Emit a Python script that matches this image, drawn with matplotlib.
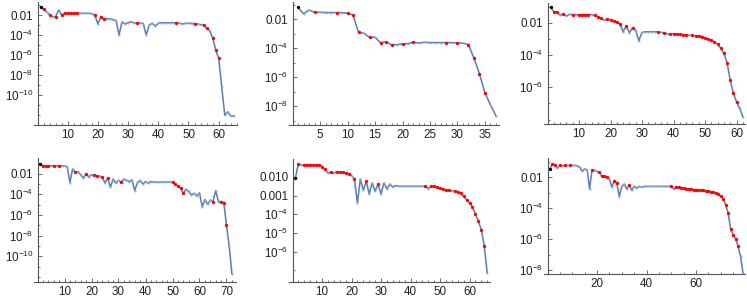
import numpy as np
import matplotlib
matplotlib.use('Agg')
import matplotlib.pyplot as plt
from matplotlib.ticker import FixedLocator, FixedFormatter, MultipleLocator, NullFormatter

plt.rcParams['font.family'] = ['Liberation Sans', 'DejaVu Sans']
plt.rcParams['mathtext.fontset'] = 'custom'
plt.rcParams['mathtext.rm'] = 'Liberation Sans'
plt.rcParams['mathtext.it'] = 'Liberation Sans:italic'

BLUE = '#5E81B5'

# log10 of the values (x = 1, 2, ...)
p1_log = [-1.23, -1.43, -1.67, -2.0, -2.17, -2.17, -1.5, -2.0, -1.83, -1.83,
          -1.83, -1.83, -1.83, -1.83, -1.83, -1.83, -1.83, -1.87, -2.0, -2.9,
          -2.17, -2.43, -2.35, -2.4, -2.45, -2.55, -4.0, -2.67, -2.9, -2.77,
          -2.67, -2.8, -2.77, -2.8, -2.85, -4.0, -3.0, -2.83, -3.1, -2.83,
          -2.77, -2.77, -2.77, -2.77, -2.77, -2.77, -2.8, -2.9, -2.83, -2.83,
          -2.85, -2.85, -2.9, -2.95, -3.0, -3.33, -3.6, -4.27, -5.5, -6.33,
          -9.2, -12.0, -11.7, -12.1, -12.1]
p1_red = [2, 4, 6, 8, 9, 10, 11, 12, 13, 19, 21, 22, 33, 46, 52, 55, 56, 58, 59, 60]

p2_log = [-1.17, -1.63, -1.36, -1.52, -1.52, -1.54, -1.54, -1.54, -1.54, -1.59,
          -1.70, -2.90, -2.97, -3.24, -3.24, -3.61, -3.56, -3.75, -3.75, -3.70,
          -3.68, -3.59, -3.63, -3.59, -3.61, -3.61, -3.61, -3.61, -3.61, -3.63,
          -3.65, -3.75, -4.69, -5.77, -7.10, -7.90, -8.67]
p2_red = [4, 8, 10, 11, 12, 14, 16, 17, 18, 20, 22, 28, 30, 32, 33, 34, 35]

p3_log = [-1.05, -1.32, -1.36, -1.53, -1.46, -1.59, -1.48, -1.50, -1.50, -1.50,
          -1.50, -1.50, -1.50, -1.50, -1.55, -1.63, -1.73, -1.84, -1.79, -1.81,
          -1.88, -1.94, -2.08, -2.56, -2.21, -2.62, -2.31, -2.49, -3.11, -2.60,
          -2.56, -2.56, -2.56, -2.56, -2.56, -2.60, -2.62, -2.68, -2.72, -2.68,
          -2.70, -2.72, -2.74, -2.74, -2.78, -2.78, -2.82, -2.82, -2.86, -2.93,
          -3.01, -3.09, -3.20, -3.32, -3.59, -3.90, -4.47, -5.55, -6.37, -6.89,
          -7.30, -7.81]
p3_red = [2, 3, 5, 8, 10, 11, 12, 13, 15, 16, 17, 19, 20, 21, 22, 23, 25, 27, 35, 37,
          39, 40, 41, 42, 43, 44, 46, 47, 48, 49, 50, 51, 52, 53, 54, 55, 56, 57, 58, 59, 60]

p4_log = [-1.02, -1.22, -1.22, -1.22, -1.22, -1.22, -1.22, -1.22, -1.22, -1.25,
          -1.30, -2.85, -1.54, -1.87, -1.78, -2.1, -2.42, -2.0, -2.3, -2.1,
          -2.1, -2.2, -2.25, -2.33, -2.9, -2.42, -3.3, -2.52, -2.9, -2.65,
          -2.81, -2.52, -2.65, -2.75, -2.6, -3.63, -2.85, -2.65, -3.0, -2.75,
          -2.9, -2.75, -2.81, -2.81, -2.81, -2.81, -2.81, -2.81, -2.81, -2.81,
          -3.0, -3.2, -3.4, -3.9, -3.5, -3.72, -4.05, -3.9, -4.15, -3.85,
          -5.2, -4.5, -4.95, -4.55, -4.7, -3.63, -4.7, -4.7, -4.8, -7.0,
          -9.0, -11.7]
p4_red = [2, 3, 4, 6, 8, 14, 18, 21, 22, 24, 26, 31, 50, 51, 52, 53, 54, 65, 68, 69, 70]

p5_log = [-2.05, -1.29, -1.38, -1.34, -1.34, -1.34, -1.35, -1.36, -1.36, -1.45,
          -1.60, -1.79, -1.75, -1.79, -1.71, -1.73, -1.75, -1.77, -1.82, -1.93,
          -2.11, -3.39, -2.11, -2.71, -2.23, -2.91, -2.32, -2.77, -2.37, -2.91,
          -2.32, -2.64, -2.39, -2.53, -2.46, -2.5, -2.5, -2.5, -2.5, -2.5,
          -2.5, -2.5, -2.5, -2.5, -2.5, -2.62, -2.5, -2.5, -2.55, -2.6,
          -2.66, -2.7, -2.7, -2.75, -2.75, -2.8, -2.86, -3.04, -3.21, -3.39,
          -3.6, -3.98, -4.37, -4.82, -5.68, -7.14]
p5_red = [2, 4, 5, 6, 7, 8, 9, 10, 11, 13, 15, 16, 17, 18, 19, 21, 25, 29, 45, 47,
          48, 49, 50, 51, 52, 53, 55, 56, 57, 58, 59, 60, 61, 62, 63, 64, 65]

p6_log = [-1.46, -1.14, -1.20, -1.42, -1.25, -1.27, -1.25, -1.25, -1.25, -1.25,
          -1.25, -1.27, -1.36, -1.63, -1.48, -1.53, -2.75, -1.53, -1.57, -1.63,
          -1.70, -1.96, -1.92, -2.0, -2.13, -2.65, -2.22, -2.39, -3.25, -2.6,
          -2.45, -2.77, -2.5, -2.86, -2.6, -2.7, -2.6, -2.65, -2.6, -2.6,
          -2.6, -2.6, -2.6, -2.6, -2.6, -2.6, -2.6, -2.6, -2.6, -2.6,
          -2.77, -2.62, -2.65, -2.7, -2.72, -2.74, -2.76, -2.78, -2.8, -2.8,
          -2.82, -2.84, -2.86, -2.88, -2.9, -2.93, -2.97, -3.03, -3.1, -3.24,
          -3.4, -3.78, -4.32, -5.35, -5.7, -5.98, -6.45, -7.1, -8.2]
p6_red = [2, 3, 5, 7, 9, 18, 21, 22, 23, 24, 27, 28, 33, 50] + list(range(52, 78))

# layout per panel: y-axis px, px per unit, right x, top px, bottom px, ylog bottom/top,
# labelled decades, unlabelled decades, x label step, x minor step
panels = [
    (p1_log, p1_red, 37.5, 3.02, 66.0, 2, 125, -13.0, -0.7, [-2, -4, -6, -8, -10], [-1, -3, -5, -7, -9, -11, -12], 10, 2),
    (p2_log, p2_red, 292.5, 5.5, 37.6, 2, 125, -9.29, -0.81, [-2, -4, -6, -8], [-1, -3, -5, -7, -9], 5, 1),
    (p3_log, p3_red, 547.5, 3.15, 62.6, 3, 124, -8.27, -0.78, [-2, -4, -6], [-1, -3, -5, -7, -8], 10, 2),
    (p4_log, p4_red, 37.5, 2.7, 73.7, 158, 282, -12.5, -0.47, [-2, -4, -6, -8, -10], [-1, -3, -5, -7, -9, -11, -12], 10, 2),
    (p5_log, p5_red, 292.5, 2.95, 66.9, 159, 282, -7.62, -1.04, [-2, -3, -4, -5, -6], [-7], 10, 2),
    (p6_log, p6_red, 547.5, 2.475, 79.8, 158, 274, -8.24, -0.77, [-2, -4, -6, -8], [-1, -3, -5, -7], 20, 5),
]

W, H = 747, 304
fig = plt.figure(figsize=(W / 100, H / 100), dpi=100)


def ylabel(e, dense):
    if e == -2:
        return '0.010' if dense else '0.01'
    if e == -3 and dense:
        return '0.001'
    return r'$10^{%d}$' % e


for (vals, red, yax, scale, xr, top, bot, ylo, yhi, ymaj, ymin, xstep, xminor) in panels:
    xl = -4.0 / scale
    left = yax + xl * scale
    right = yax + xr * scale
    ax = fig.add_axes([left / W, (H - bot) / H, (right - left) / W, (bot - top) / H])
    x = np.arange(1, len(vals) + 1)
    y = 10.0 ** np.array(vals)
    ax.plot(x, y, color=BLUE, lw=1.15, marker='o', ms=1.5, mfc='#8FAAD0', mec='none', zorder=2)
    ri = np.array(red) - 1
    ax.plot(x[ri], y[ri], ls='none', marker='o', ms=2.4, color='#FF0000', mec='none', zorder=3)
    ax.plot(x[:1], y[:1], ls='none', marker='o', ms=2.4, color='black', mec='none', zorder=3)
    ax.set_yscale('log')
    ax.set_xlim(xl, xr)
    ax.set_ylim(10.0 ** ylo, 10.0 ** yhi)
    for s in ['top', 'right']:
        ax.spines[s].set_visible(False)
    ax.spines['left'].set_position(('data', 0))
    for s in ['left', 'bottom']:
        ax.spines[s].set_color('#555555')
        ax.spines[s].set_linewidth(0.8)
    dense = ymaj[1] - ymaj[0] == -1
    ax.yaxis.set_major_locator(FixedLocator([10.0 ** e for e in ymaj]))
    ax.yaxis.set_major_formatter(FixedFormatter([ylabel(e, dense) for e in ymaj]))
    ax.yaxis.set_minor_locator(FixedLocator([10.0 ** e for e in ymin]))
    ax.yaxis.set_minor_formatter(NullFormatter())
    ax.xaxis.set_major_locator(FixedLocator(list(range(xstep, int(xr) + 1, xstep))))
    ax.xaxis.set_minor_locator(MultipleLocator(xminor))
    ax.xaxis.set_minor_formatter(NullFormatter())
    ax.tick_params(which='both', direction='in', color='#555555', width=0.6,
                   labelsize=8.4, labelcolor='#222222', pad=3)
    ax.tick_params(which='major', length=3)
    ax.tick_params(which='minor', length=1.6)
    ax.patch.set_alpha(0)

fig.savefig('out.png', dpi=100)
